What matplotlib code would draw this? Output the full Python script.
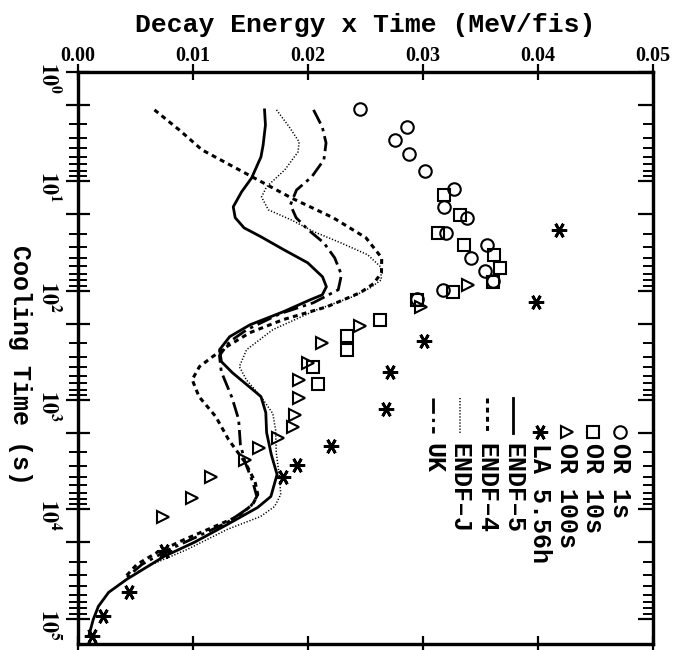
import matplotlib
matplotlib.use("Agg")
import matplotlib.pyplot as plt
from matplotlib.ticker import FixedLocator, FuncFormatter, NullFormatter
import numpy as np

plt.rcParams["mathtext.fontset"] = "stix"

# ---- measured data: decay energy x time (MeV/fis) vs cooling time (s) ----
or1_t = [2.18, 3.18, 4.18, 5.61, 8.02, 11.7, 17.1, 21.5, 29.5, 38.0, 50.0, 65.7, 81.1, 98.0, 118]
or1_e = [0.0245, 0.0286, 0.0276, 0.0288, 0.0302, 0.0327, 0.0318, 0.0338, 0.0320, 0.0356,
         0.0342, 0.0354, 0.0361, 0.0317, 0.0295]

or10_t = [13.3, 20.2, 29.5, 38.0, 46.9, 61.7, 82.7, 102, 121, 184, 258, 346, 494, 707]
or10_e = [0.0318, 0.0332, 0.0313, 0.0336, 0.0362, 0.0367, 0.0361, 0.0326, 0.0295, 0.0263,
          0.0234, 0.0234, 0.0204, 0.0209]

or100_t = [88.2, 140, 209, 298, 455, 650, 949, 1356, 1745, 2198, 2715, 3493, 4998, 7935, 11830]
or100_e = [0.0339, 0.0298, 0.0245, 0.0212, 0.0200, 0.0192, 0.0192, 0.0189, 0.0187, 0.0174,
           0.0157, 0.0145, 0.0116, 0.0099, 0.0074]

la_t = [27.7, 126, 286, 549, 1196, 2604, 3883, 4998, 24200, 57300, 94900, 144500]
la_e = [0.0418, 0.0398, 0.0301, 0.0271, 0.0268, 0.0220, 0.0190, 0.0178, 0.0075, 0.0044,
        0.0022, 0.0012]

# ---- summation calculations ----
endf5_t = [2.22, 3.05, 4.64, 5.97, 9.29, 12.5, 17.1, 21.5, 26.6, 32.1, 42.2, 55.5, 74.5, 91.9,
           109, 121, 156, 205, 263, 346, 445, 561, 753, 929, 1300, 1980, 3150, 4790, 7610,
           9590, 13700, 20000, 26900, 43500, 57300, 76900, 101000, 139000]
endf5_e = [0.01622, 0.01630, 0.01610, 0.01591, 0.01510, 0.01422, 0.01350, 0.01367, 0.01444,
           0.01591, 0.01790, 0.01997, 0.02126, 0.02160, 0.02124, 0.02019, 0.01783, 0.01495,
           0.01319, 0.01231, 0.01247, 0.01342, 0.01488, 0.01591, 0.01633, 0.01640, 0.01681,
           0.01731, 0.01677, 0.01562, 0.01299, 0.01010, 0.00748, 0.00424, 0.00266, 0.00177,
           0.00133, 0.00097]

endf4_t = [2.22, 3.39, 5.16, 8.36, 14.2, 21.5, 32.8, 50.0, 68.5, 86.3, 104, 140, 184, 242, 325,
           401, 494, 650, 929, 1415, 2295, 3720, 5550, 7290, 9000, 11600, 14600, 19200, 24700,
           31800, 41800]
endf4_e = [0.00665, 0.00881, 0.01079, 0.01450, 0.01857, 0.02219, 0.02504, 0.02641, 0.02639,
           0.02569, 0.02455, 0.02166, 0.01782, 0.01494, 0.01292, 0.01170, 0.01056, 0.00993,
           0.01052, 0.01198, 0.01309, 0.01454, 0.01539, 0.01563, 0.01519, 0.01387, 0.01169,
           0.00906, 0.00688, 0.00512, 0.00407]

endfj_t = [2.22, 3.18, 4.36, 5.38, 7.85, 11.2, 13.9, 18.2, 22.5, 28.9, 36.5, 46.9, 60.4, 79.4,
           93.9, 113, 149, 227, 346, 494, 650, 929, 1328, 1860, 3010, 4790, 7290, 9390, 11600,
           15200, 23200, 31800, 37600]
endfj_e = [0.01726, 0.01837, 0.01923, 0.01913, 0.01798, 0.01640, 0.01596, 0.01655, 0.01854,
           0.02052, 0.02286, 0.02519, 0.02631, 0.02638, 0.02542, 0.02393, 0.02079, 0.01694,
           0.01466, 0.01403, 0.01463, 0.01591, 0.01694, 0.01718, 0.01724, 0.01749, 0.01763,
           0.01710, 0.01587, 0.01299, 0.00949, 0.00643, 0.00511]

uk_t = [2.22, 3.18, 4.45, 6.36, 9.10, 12.0, 16.4, 21.5, 27.7, 36.5, 50.0, 71.4, 98.0, 129, 162,
        227, 292, 392, 549, 949, 1507, 2547, 3720, 5670, 7610, 9390, 13100, 17700, 23700,
        31800, 41800]
uk_e = [0.02048, 0.02124, 0.02157, 0.02138, 0.02032, 0.01900, 0.01847, 0.01897, 0.02001,
        0.02138, 0.02232, 0.02291, 0.02263, 0.02045, 0.01757, 0.01468, 0.01319, 0.01230,
        0.01246, 0.01339, 0.01397, 0.01412, 0.01454, 0.01521, 0.01555, 0.01501, 0.01300,
        0.01037, 0.00775, 0.00556, 0.00424]

energy_ticks = [0.00, 0.01, 0.02, 0.03, 0.04, 0.05]
energy_ticklabels = ["0.00", "0.01", "0.02", "0.03", "0.04", "0.05"]

legend_labels = ["OR 1s", "OR 10s", "OR 100s", "LA 5.56h", "ENDF\u20135", "ENDF\u20134",
                 "ENDF\u2013J", "UK"]

# ---- styles ----
mk = dict(linestyle="none", markerfacecolor="none", markeredgecolor="black",
          markeredgewidth=1.5, markersize=9)
star = (6, 2, 90)
styles = {
    "or1": dict(marker="o", **mk),
    "or10": dict(marker="s", **{**mk, "markersize": 8.5}),
    "or100": dict(marker=">", **mk),
    "la": dict(marker=star, **{**mk, "markersize": 11, "markeredgewidth": 2.0}),
    "endf5": dict(color="black", linestyle="-", linewidth=2.0),
    "endf4": dict(color="black", linestyle=(0, (1.6, 1.4)), linewidth=2.2),
    "endfj": dict(color="black", linestyle=(0, (0.8, 1.2)), linewidth=1.1),
    "uk": dict(color="black", linestyle=(0, (5.5, 1.8, 1.2, 1.8)), linewidth=2.0),
}

fig = plt.figure(figsize=(6.75, 6.5), dpi=100)
ax = fig.add_axes([78 / 675, 1 - 644 / 650, 575 / 675, 572 / 650])

ax.plot(endf5_e, endf5_t, **styles["endf5"])
ax.plot(endf4_e, endf4_t, **styles["endf4"])
ax.plot(endfj_e, endfj_t, **styles["endfj"])
ax.plot(uk_e, uk_t, **styles["uk"])
ax.plot(or1_e, or1_t, **styles["or1"])
ax.plot(or10_e, or10_t, **styles["or10"])
ax.plot(or100_e, or100_t, **styles["or100"])
ax.plot(la_e, la_t, **styles["la"])

ax.set_yscale("log")
ax.set_ylim(10 ** 5.23, 1)
ax.set_xlim(0, 0.05)

for s in ax.spines.values():
    s.set_linewidth(2.3)

# energy axis on top
ax.xaxis.tick_top()
ax.set_xticks(energy_ticks)
ax.set_xticklabels(energy_ticklabels, fontfamily="Liberation Serif", fontweight="bold",
                   fontsize=14.5)
ax.tick_params(axis="x", which="major", direction="inout", length=12, width=1.6,
               top=True, bottom=True, labeltop=True, labelbottom=False, pad=-2)
ax.xaxis.set_label_position("top")
ax.set_xlabel("Decay Energy x Time (MeV/fis)", fontfamily="Liberation Mono",
              fontweight="bold", fontsize=19)
ax.xaxis.set_label_coords(0.499, 1 + (72 - 25) / 572)
ax.xaxis.label.set_va("center")

# cooling time axis
decades = [1, 10, 100, 1e3, 1e4, 1e5]
major_t = sorted(decades + [2 * d for d in decades[:-1]])
minor_t = [m * d for d in decades[:-1] for m in range(3, 10)]


def decade_label(v, pos):
    p = np.log10(v)
    if abs(p - round(p)) < 1e-6:
        return r"$\mathbf{10^{%d}}$" % int(round(p))
    return ""


ax.yaxis.set_major_locator(FixedLocator(major_t))
ax.yaxis.set_minor_locator(FixedLocator(minor_t))
ax.yaxis.set_major_formatter(FuncFormatter(decade_label))
ax.yaxis.set_minor_formatter(NullFormatter())
ax.tick_params(axis="y", which="major", direction="inout", length=17, width=1.6,
               labelsize=16, labelrotation=-90, pad=3, right=False)
ax.tick_params(axis="y", which="minor", direction="inout", length=13, width=1.4, right=False)
ax.set_ylabel("Cooling Time (s)", fontfamily="Liberation Mono", fontweight="bold",
              fontsize=18, rotation=-90, va="center", ha="center")
ax.yaxis.set_label_coords((20 - 78) / 575, 1 - (365 - 72) / 572)

# inward ticks on the right edge
ax2 = ax.twinx()
ax2.set_yscale("log")
ax2.set_ylim(ax.get_ylim())
ax2.yaxis.set_major_locator(FixedLocator(major_t))
ax2.yaxis.set_minor_locator(FixedLocator(minor_t))
ax2.yaxis.set_major_formatter(NullFormatter())
ax2.yaxis.set_minor_formatter(NullFormatter())
ax2.tick_params(axis="y", which="major", direction="in", length=11, width=1.6)
ax2.tick_params(axis="y", which="minor", direction="in", length=7, width=1.4)
for s in ax2.spines.values():
    s.set_linewidth(2.3)

# key, drawn as vertical columns reading downward
keys = ["or1", "or10", "or100", "la", "endf5", "endf4", "endfj", "uk"]
col_x0 = (620 - 78) / 575
col_dx = 26.7 / 575
marker_y = 1 - (432 - 72) / 572
line_y = (1 - (398 - 72) / 572, 1 - (433 - 72) / 572)
text_y = 1 - (443 - 72) / 572
for i, (key, label) in enumerate(zip(keys, legend_labels)):
    cx = col_x0 - i * col_dx
    st = styles[key]
    if "marker" in st:
        ax.plot([cx], [marker_y], transform=ax.transAxes, clip_on=False, **st)
    else:
        ax.plot([cx, cx], line_y, transform=ax.transAxes, clip_on=False, **st)
    ax.text(cx, text_y, label, transform=ax.transAxes, rotation=-90, ha="center", va="top",
            fontfamily="Liberation Mono", fontweight="bold", fontsize=18)

fig.savefig("out.png", dpi=100, facecolor="white")
